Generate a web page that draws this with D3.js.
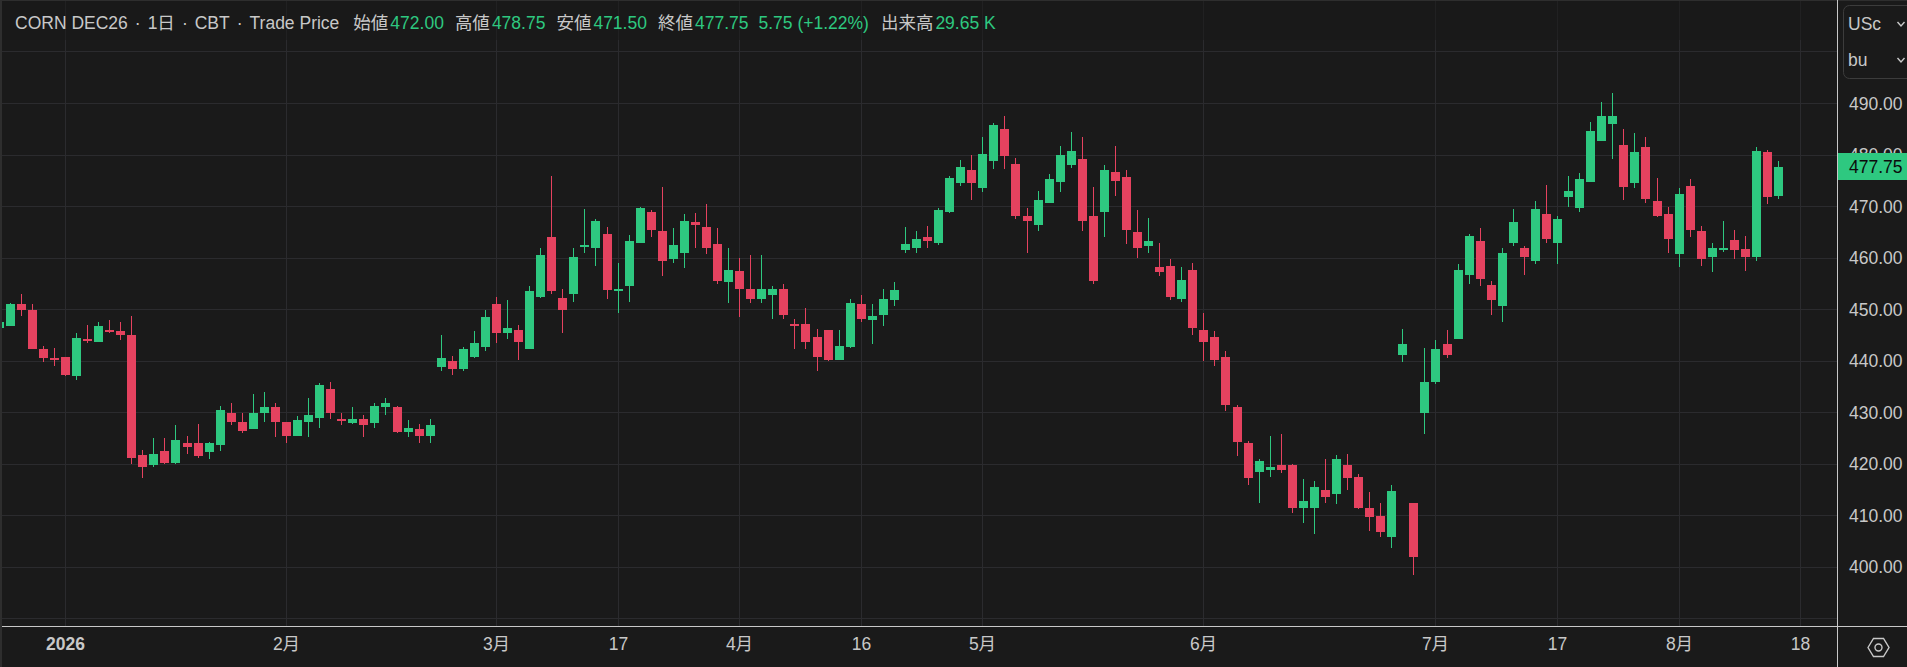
<!DOCTYPE html>
<html>
<head>
<meta charset="utf-8">
<script src="https://cdn.jsdelivr.net/npm/d3@7"></script>
<style>
  html, body { margin: 0; padding: 0; background: #1a1a1a; overflow: hidden; }
  text { font-family: "Liberation Sans", "Noto Sans CJK JP", sans-serif; font-size: 17.5px; }
</style>
</head>
<body>
<script>
const opens = [
  446.5, 446.75, 451, 450, 442.25, 440.5, 440.75, 437, 444.25, 443.75,
  446, 445.75, 445, 421.75, 419.75, 422.5, 420.25, 424, 424, 422.25,
  423.75, 430, 428.25, 426.75, 430, 431, 428.25, 425.5, 428.25, 429,
  434.5, 428.75, 428, 428.75, 428, 431, 431, 426.25, 426.75, 425.5,
  438.75, 440, 438.5, 440.75, 442.75, 451, 445.5, 446, 442.25, 452.5,
  464, 452.25, 453, 462.25, 462, 464.75, 453.5, 454.5, 463, 469,
  465.25, 459.75, 461, 467, 466, 462.75, 455.25, 457.5, 454, 452,
  452.75, 454, 447.25, 447.25, 444.75, 446, 440.25, 442.75, 451, 448,
  449, 451.75, 461.5, 462, 464, 463, 469, 474.5, 477, 473.5,
  478.75, 485, 478.25, 468.25, 466.5, 470.75, 474.75, 478, 479.25, 468.25,
  469, 476.75, 475.75, 465, 462.25, 458.25, 458.5, 452, 457.75, 446,
  444.75, 440.75, 431, 424, 418.5, 418.75, 419.75, 419.75, 411.5, 411.5,
  415, 414.25, 419.75, 417.5, 411.5, 410, 405.75, 441.25, 412.5, 430,
  436, 443.25, 444.25, 456.75, 463.25, 454.75, 450.75, 463, 462, 459.5,
  468.5, 463, 471.75, 469.75, 474.75, 482.75, 486, 482, 474.5, 481.5,
  471, 468.5, 460.75, 474, 465.25, 460.25, 461.5, 463.5, 461.75, 460.25,
  480.5, 472
]
const closes = [
  447.5, 451, 450, 442.25, 440.5, 440.25, 437.25, 444.5, 444, 446.75,
  445.75, 445, 421.25, 419.5, 422, 420.25, 424.75, 423.25, 421.5, 424,
  430.5, 428.25, 426.5, 430, 431, 428.25, 425.5, 428.5, 429.5, 435.25,
  430, 428.5, 428.75, 427.5, 431.25, 431.75, 426.25, 427, 425.5, 427.5,
  440.5, 438.5, 442.25, 443.5, 448.5, 445.5, 446.5, 443.75, 453.5, 460.5,
  453.5, 450, 460.25, 462.5, 467.25, 453.75, 454, 463.25, 469.75, 465.5,
  459.5, 462.5, 467.25, 466.5, 462, 455.5, 457.75, 454, 452, 454,
  454, 449, 446.75, 443.75, 440.75, 440.25, 443, 451.25, 448.25, 448.75,
  452, 453.75, 462.75, 463.75, 463.25, 469.25, 475.5, 477.75, 474.5, 480.25,
  485.75, 479.75, 468.25, 467.25, 471.25, 475.25, 480, 480.75, 467.25, 455.5,
  477, 475, 465.5, 462, 463.25, 457.25, 452.5, 455.75, 446.5, 443.75,
  440.25, 431.5, 424.25, 417.25, 420.5, 419.5, 418.75, 411.5, 412.75, 415.5,
  413.5, 421, 417.25, 411.5, 409.75, 406.75, 414.75, 443.25, 402, 436,
  442.25, 441.25, 457.75, 464.25, 456, 451.75, 461, 467, 460.25, 469.5,
  463.75, 467.5, 473, 475.25, 484.75, 487.5, 487.5, 473.75, 480.5, 471.5,
  468.25, 463.75, 472.5, 465.5, 459.75, 462, 462, 461.5, 460.25, 480.75,
  471.75, 477.75
]
const highs = [
  447.5, 451.25, 453, 451, 443, 442.5, 440.75, 445.5, 447, 447.5,
  448, 447.5, 448.75, 422.75, 425, 425, 427.5, 425.5, 427.75, 424.25,
  431.25, 431.75, 430, 433.5, 434, 431.75, 428.25, 429.25, 432.75, 435.75,
  436, 430, 431, 429.5, 431.75, 432.75, 431.25, 428.5, 427.75, 428.75,
  445, 441, 442.75, 445.75, 450, 452.5, 451.75, 447, 454.5, 462,
  476, 454, 462, 469.5, 467.5, 466, 459, 464.5, 470, 469.25,
  473.75, 465.75, 468.5, 468.75, 470.5, 465.75, 462, 460, 460.5, 460.5,
  454.5, 455, 448.25, 450.25, 446.25, 446, 446, 452, 452.75, 451,
  454, 455.25, 466, 465.25, 466.25, 469.75, 476, 479, 480, 483.5,
  486.25, 487.5, 479.5, 469.75, 473, 476.25, 481.75, 484.5, 483.5, 473.75,
  478, 481.75, 477, 469.25, 467.75, 463, 459.75, 458.25, 459, 449.25,
  445.75, 442, 431.5, 424.5, 421, 425.5, 425.75, 420, 417, 416.75,
  421, 421.75, 422, 418, 414.5, 412.5, 416, 446.25, 412.5, 442.5,
  444, 446, 458.75, 464.75, 465.75, 455.5, 462, 469.5, 462.25, 471,
  474.25, 468.25, 476, 476.5, 486.5, 490.25, 492, 485, 484.25, 483.5,
  475.5, 470, 473.5, 475.25, 466.25, 463, 467.25, 465.5, 464.25, 481.5,
  481, 478.75
]
const lows = [
  446.5, 446.75, 448.75, 442.25, 439.75, 439, 437, 436.25, 443.5, 443.75,
  445.5, 444, 420, 417.25, 419.5, 420, 420, 422, 421.25, 421,
  422.5, 427.5, 426, 426.75, 428.25, 425.25, 424, 425.5, 425.25, 427,
  428.75, 427.5, 427.75, 425.25, 427, 429.5, 426, 425.25, 424, 424,
  438, 437.25, 438, 440.5, 442, 443.5, 444.25, 440.25, 442.25, 452.25,
  453, 445.5, 451.5, 461, 458.5, 452, 449.25, 451.5, 463, 464,
  456.5, 459, 458, 462, 460.75, 455, 451.25, 448.5, 451.25, 451.25,
  448.25, 448.25, 442.25, 442.25, 438, 440, 440.25, 442.5, 447.5, 443.25,
  446.75, 450.75, 461, 461, 462, 462.5, 468.75, 474, 471.25, 472.75,
  477.25, 477.25, 467.5, 461, 465.25, 470.75, 472.75, 477.5, 465.25, 455,
  464, 472, 462.75, 460, 461, 456.5, 451.75, 451.5, 445, 440,
  439, 430.25, 421.5, 416, 412.5, 417.5, 418.25, 410.5, 408.5, 406.5,
  412.5, 412.25, 415, 411.25, 407, 405.75, 403.75, 439.75, 398.5, 425.75,
  435.5, 440.5, 444.25, 455, 454.5, 449, 447.5, 462.25, 456.75, 458.75,
  463, 458.75, 470, 469, 474.75, 482.75, 479.25, 471.25, 473.5, 470.75,
  468, 461, 458.25, 464, 458.5, 457.25, 461.25, 459.75, 457.5, 459.5,
  470.5, 471.5
]

// index of the candle each time label sits on, the last one is past the data
const timeTicks = [6, 26, 45, 56, 67, 78, 89, 109, 130, 141, 152, 163]
const timeLabels = ['2026', '2月', '3月', '17', '4月', '16', '5月', '6月', '7月', '17', '8月', '18']
const priceTicks = [490, 480, 470, 460, 450, 440, 430, 420, 410, 400]
const priceGrid = [500, 490, 480, 470, 460, 450, 440, 430, 420, 410, 400, 390]
const lastPrice = 477.75

const legendTitle = ['CORN DEC26', '1日', 'CBT', 'Trade Price']
const legendLabels = ['始値', '高値', '安値', '終値']
const legendValues = ['472.00', '478.75', '471.50', '477.75']
const legendChange = '5.75 (+1.22%)'
const volumeLabel = '出来高'
const volumeValue = '29.65 K'
const unitLabels = ['USc', 'bu']

const W = 1907
const H = 667
const AXIS_X = 1837
const AXIS_Y = 626
const UP = '#2ec880'
const DOWN = '#e5425f'
const GREY = '#c8c8c8'
const GRID = '#2b2b2e'

const x = d3.scaleLinear().domain([0, 163]).range([-0.85, 1800.73])
const y = d3.scaleLinear().domain([490, 390]).range([103.5, 618.5])
const px = i => Math.floor(x(i))
const py = v => Math.round(y(v))

const svg = d3.select('body')
  .append('svg')
  .attr('width', W)
  .attr('height', H)
  .style('display', 'block')

svg.append('rect').attr('width', W).attr('height', H).attr('fill', '#1a1a1a')
svg.append('defs').append('clipPath').attr('id', 'pane')
  .append('rect').attr('x', 2).attr('y', 0).attr('width', AXIS_X - 2).attr('height', AXIS_Y)

const pane = svg.append('g').attr('clip-path', 'url(#pane)')

pane.selectAll('line.h')
  .data(priceGrid)
  .enter()
  .append('line')
  .attr('class', 'h')
  .attr('x1', 2)
  .attr('x2', AXIS_X)
  .attr('y1', d => Math.floor(y(d)) + 0.5)
  .attr('y2', d => Math.floor(y(d)) + 0.5)
  .attr('stroke', GRID)

pane.selectAll('line.v')
  .data(timeTicks)
  .enter()
  .append('line')
  .attr('class', 'v')
  .attr('x1', d => px(d) + 0.5)
  .attr('x2', d => px(d) + 0.5)
  .attr('y1', 0)
  .attr('y2', AXIS_Y)
  .attr('stroke', GRID)

// the legend strip dims the grid behind it
pane.append('rect').attr('x', 2).attr('width', AXIS_X - 2).attr('height', 40)
  .attr('fill', '#1a1a1a').attr('fill-opacity', 0.55)

const candles = pane.selectAll('g.candle')
  .data(d3.range(opens.length))
  .enter()
  .append('g')
  .attr('class', 'candle')
  .attr('fill', i => closes[i] >= opens[i] ? UP : DOWN)

candles.append('rect')
  .attr('x', i => px(i))
  .attr('y', i => py(highs[i]))
  .attr('width', 1)
  .attr('height', i => Math.max(py(lows[i]) - py(highs[i]), 1))

candles.append('rect')
  .attr('x', i => px(i) - 4)
  .attr('y', i => py(Math.max(opens[i], closes[i])))
  .attr('width', 9)
  .attr('height', i => Math.max(py(Math.min(opens[i], closes[i])) - py(Math.max(opens[i], closes[i])), 2))

// frame
svg.append('rect').attr('x', 0).attr('y', 0).attr('width', 2).attr('height', H).attr('fill', '#2e2e2e')
svg.append('rect').attr('x', 0).attr('y', 0).attr('width', W).attr('height', 1).attr('fill', '#2e2e2e')
svg.append('rect').attr('x', AXIS_X).attr('y', 0).attr('width', 1).attr('height', H).attr('fill', GREY)
svg.append('rect').attr('x', 2).attr('y', AXIS_Y).attr('width', W - 2).attr('height', 1).attr('fill', GREY)

// axes
const yAxis = d3.axisRight(y)
  .tickValues(priceTicks)
  .tickFormat(d3.format('.2f'))
  .tickSize(0)
  .tickPadding(12)

const yg = svg.append('g').attr('transform', `translate(${AXIS_X}, 0)`).call(yAxis)
yg.select('.domain').remove()
yg.selectAll('text').attr('fill', GREY).style('font-size', '17.5px').style('font-family', '"Liberation Sans", sans-serif')

const xAxis = d3.axisBottom(x)
  .tickValues(timeTicks)
  .tickFormat((d, i) => timeLabels[i])
  .tickSize(0)
  .tickPadding(0)

const xg = svg.append('g').attr('transform', `translate(0.5, ${AXIS_Y + 12})`).call(xAxis)
xg.select('.domain').remove()
xg.selectAll('.tick').attr('transform', d => `translate(${px(d)}, 0)`)
xg.selectAll('text')
  .attr('fill', GREY)
  .style('font-size', '17.5px')
  .style('font-family', '"Liberation Sans", "Noto Sans CJK JP", sans-serif')
  .style('font-weight', (d, i) => i === 0 ? 'bold' : 'normal')

// last price tag
const tagY = y(lastPrice)
svg.append('rect').attr('x', AXIS_X + 1).attr('y', Math.round(tagY - 13.5)).attr('width', W - AXIS_X - 1).attr('height', 27).attr('fill', UP)
svg.append('text')
  .attr('x', AXIS_X + 12)
  .attr('y', tagY + 6)
  .attr('fill', '#0c0c0c')
  .text(d3.format('.2f')(lastPrice))

// legend line
const legend = svg.append('text').attr('x', 15).attr('y', 28.5).attr('fill', GREY)
legendTitle.forEach((part, i) => {
  if (i > 0) legend.append('tspan').attr('dx', 7).text('·')
  legend.append('tspan').attr('dx', i > 0 ? 7 : 0).text(part)
})
legendLabels.forEach((label, i) => {
  legend.append('tspan').attr('dx', i === 0 ? 14 : 11).text(label)
  legend.append('tspan').attr('dx', 2).attr('fill', UP).text(legendValues[i])
})
legend.append('tspan').attr('dx', 10).attr('fill', UP).text(legendChange)
legend.append('tspan').attr('dx', 12).text(volumeLabel)
legend.append('tspan').attr('dx', 2).attr('fill', UP).text(volumeValue)

// unit selector
svg.append('rect')
  .attr('x', 1843.5).attr('y', 5.5).attr('width', 80).attr('height', 73).attr('rx', 6)
  .attr('fill', 'none').attr('stroke', '#3c3c3c')

unitLabels.forEach((u, i) => {
  svg.append('text').attr('x', 1848).attr('y', 30 + i * 36).attr('fill', GREY).text(u)
  const cy = 24 + i * 36
  svg.append('path')
    .attr('d', d3.line()([[1897.5, cy - 2], [1901, cy + 2], [1904.5, cy - 2]]))
    .attr('fill', 'none').attr('stroke', GREY).attr('stroke-width', 1.4)
})

// settings icon
const hex = d3.line().curve(d3.curveLinearClosed)
const hexCx = 1878.5
const hexCy = 647.5
svg.append('path')
  .attr('d', hex([[-10.5, 0], [-5, -9], [5, -9], [10.5, 0], [5, 9], [-5, 9]].map(p => [p[0] + hexCx, p[1] + hexCy])))
  .attr('fill', 'none').attr('stroke', GREY).attr('stroke-width', 1.4)
svg.append('circle').attr('cx', hexCx).attr('cy', hexCy).attr('r', 3.5)
  .attr('fill', 'none').attr('stroke', GREY).attr('stroke-width', 1.4)
</script>
</body>
</html>
